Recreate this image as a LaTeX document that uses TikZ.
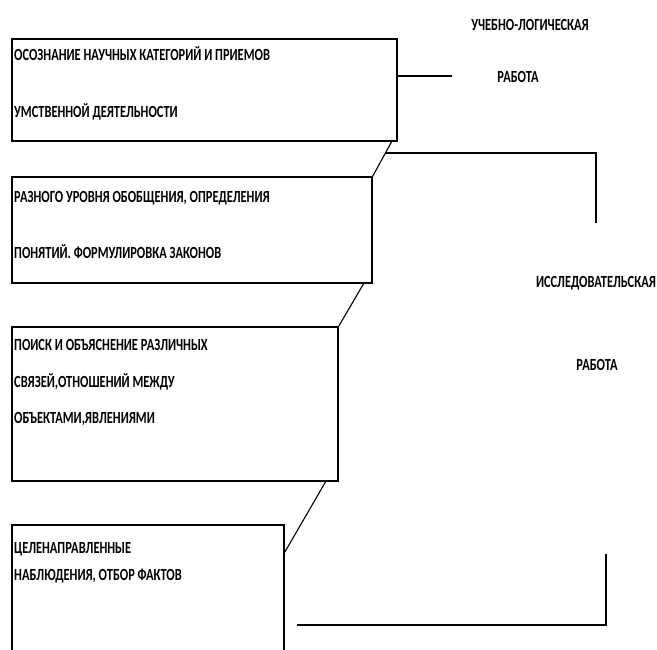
\documentclass[tikz,border=0pt]{standalone}
\usepackage{fontspec}
\setmainfont{Carlito}[FakeStretch=0.73]
\usetikzlibrary{calc}
\begin{document}
\begin{tikzpicture}[x=1pt,y=-1pt,
  box/.style={draw=black,line width=1.3pt,rectangle,inner sep=0pt,fill=white},
  lbl/.style={anchor=base west,inner sep=0pt,font=\fontsize{17}{20}\selectfont\bfseries},
  side/.style={anchor=base,inner sep=0pt,font=\fontsize{17}{20}\selectfont\bfseries},
  conn/.style={draw=black,line width=1.1pt},
  brk/.style={draw=black,line width=1.5pt}]
\useasboundingbox[fill=white] (0,0) rectangle (657,650);
\clip (0,0) rectangle (657,650);
% boxes
\node[box,minimum width=385pt,minimum height=102pt] (box1) at (204.5,90) {};
\node[box,minimum width=360pt,minimum height=106pt] (box2) at (192,230) {};
\node[box,minimum width=326pt,minimum height=154pt] (box3) at (175,404) {};
\node[box,minimum width=272pt,minimum height=175pt] (box4) at (148,612.5) {};
% texts in boxes
\node[lbl] (t11) at (14,60.5) {ОСОЗНАНИЕ НАУЧНЫХ КАТЕГОРИЙ И ПРИЕМОВ};
\node[lbl] (t12) at (14,117.5) {УМСТВЕННОЙ ДЕЯТЕЛЬНОСТИ};
\node[lbl] (t21) at (14,202.5) {РАЗНОГО УРОВНЯ ОБОБЩЕНИЯ, ОПРЕДЕЛЕНИЯ};
\node[lbl] (t22) at (14,258.5) {ПОНЯТИЙ. ФОРМУЛИРОВКА ЗАКОНОВ};
\node[lbl] (t31) at (14,350.5) {ПОИСК И ОБЪЯСНЕНИЕ РАЗЛИЧНЫХ};
\node[lbl] (t32) at (14,387.5) {СВЯЗЕЙ,ОТНОШЕНИЙ МЕЖДУ};
\node[lbl] (t33) at (14,423.5) {ОБЪЕКТАМИ,ЯВЛЕНИЯМИ};
\node[lbl] (t41) at (14,553.5) {ЦЕЛЕНАПРАВЛЕННЫЕ};
\node[lbl] (t42) at (14,580.5) {НАБЛЮДЕНИЯ, ОТБОР ФАКТОВ};
% side labels
\node[side] (ul1) at (530,30.5) {УЧЕБНО-ЛОГИЧЕСКАЯ};
\node[side] (ul2) at (518,82.5) {РАБОТА};
\node[side] (ir1) at (596,287.5) {ИССЛЕДОВАТЕЛЬСКАЯ};
\node[side] (ir2) at (597,370.5) {РАБОТА};
% coordinates
\coordinate (c1) at (452,76);
\coordinate (s1a) at ($(box1.south east)+(-6,0)$);
\coordinate (s1m) at ($(s1a)!1/3!(box2.north east)$);
\coordinate (b1) at (596,223);
\coordinate (s2a) at ($(box2.south east)+(-9,0)$);
\coordinate (s3a) at ($(box3.south east)+(-13,0)$);
\coordinate (s3b) at ($(box4.north east)+(0,28)$);
\coordinate (b2a) at (297,625);
\coordinate (b2b) at (606,554);
% connectors
\draw[conn] (box1.east |- c1) -- (c1);
\draw[conn] (s1a) -- (box2.north east);
\draw[brk] (s1m) -| (b1);
\draw[conn] (s2a) -- (box3.north east);
\draw[conn] (s3a) -- (s3b);
\draw[brk] (b2a) -| (b2b);
\end{tikzpicture}
\end{document}
